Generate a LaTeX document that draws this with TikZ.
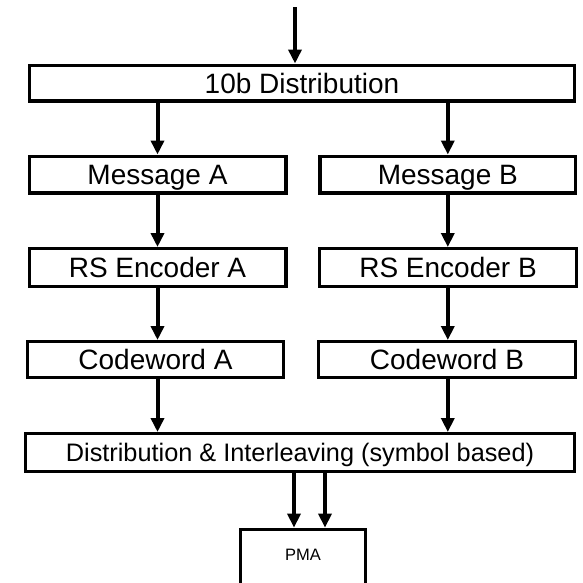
\documentclass[tikz,border=0pt]{standalone}
\usepackage{fontspec}
\setmainfont{Liberation Sans}
\usetikzlibrary{arrows.meta}
\tikzset{
  blk/.style={draw, line width=3.2pt, inner sep=0pt, anchor=center,
    font=\fontsize{28}{32}\selectfont, text height=20pt, text depth=0pt},
  arr/.style={line width=4pt,
    -{Triangle[width=13pt,length=14pt]}, shorten >=0pt}
}
\begin{document}
\begin{tikzpicture}[x=1pt,y=-1pt]
  \useasboundingbox (0,0) rectangle (583,582);
  % top-level distribution
  \node[blk, minimum width=544.8pt, minimum height=35.8pt] (dist10) at (302,83) {10b Distribution};
  % lane A
  \node[blk, minimum width=256.8pt, minimum height=36.8pt] (msgA) at (157.5,174.5) {Message A};
  \node[blk, minimum width=256.8pt, minimum height=37.8pt] (rsA) at (157.5,267.5) {RS Encoder A};
  \node[blk, minimum width=255.8pt, minimum height=35.8pt] (cwA) at (155.5,359.5) {Codeword A};
  % lane B
  \node[blk, minimum width=255.8pt, minimum height=36.8pt] (msgB) at (447.8,174.5) {Message B};
  \node[blk, minimum width=256.8pt, minimum height=37.8pt] (rsB) at (448,267.5) {RS Encoder B};
  \node[blk, minimum width=256.8pt, minimum height=35.8pt] (cwB) at (447,359.5) {Codeword B};
  % interleaver and PMA
  \node[blk, minimum width=548.8pt, minimum height=37.8pt,
        font=\fontsize{25.3}{29}\selectfont, text height=18.1pt] (dist) at (300,452.5)
        {Distribution \& Interleaving (symbol based)};
  \node[draw, line width=3.2pt, minimum width=124.8pt, minimum height=55.4pt,
        inner sep=0pt, anchor=north] (pma) at (303,527.6) {};
  \node[font=\fontsize{16.5}{19}\selectfont, text height=11.8pt, text depth=0pt,
        inner sep=0pt] (pmalbl) at (303,555) {PMA};
  % connectors
  \coordinate (in) at (295,7);
  \draw[arr] (in) -- (in |- dist10.north);
  \draw[arr] (msgA |- dist10.south) -- (msgA.north);
  \draw[arr] (msgB |- dist10.south) -- (msgB.north);
  \draw[arr] (msgA.south) -- (msgA |- rsA.north);
  \draw[arr] (msgB.south) -- (msgB |- rsB.north);
  \draw[arr] (msgA |- rsA.south) -- (msgA |- cwA.north);
  \draw[arr] (msgB |- rsB.south) -- (msgB |- cwB.north);
  \draw[arr] (msgA |- cwA.south) -- (msgA |- dist.north);
  \draw[arr] (msgB |- cwB.south) -- (msgB |- dist.north);
  \coordinate (p1) at (294,0);
  \coordinate (p2) at (325,0);
  \draw[arr] (p1 |- dist.south) -- (p1 |- pma.north);
  \draw[arr] (p2 |- dist.south) -- (p2 |- pma.north);
\end{tikzpicture}
\end{document}
